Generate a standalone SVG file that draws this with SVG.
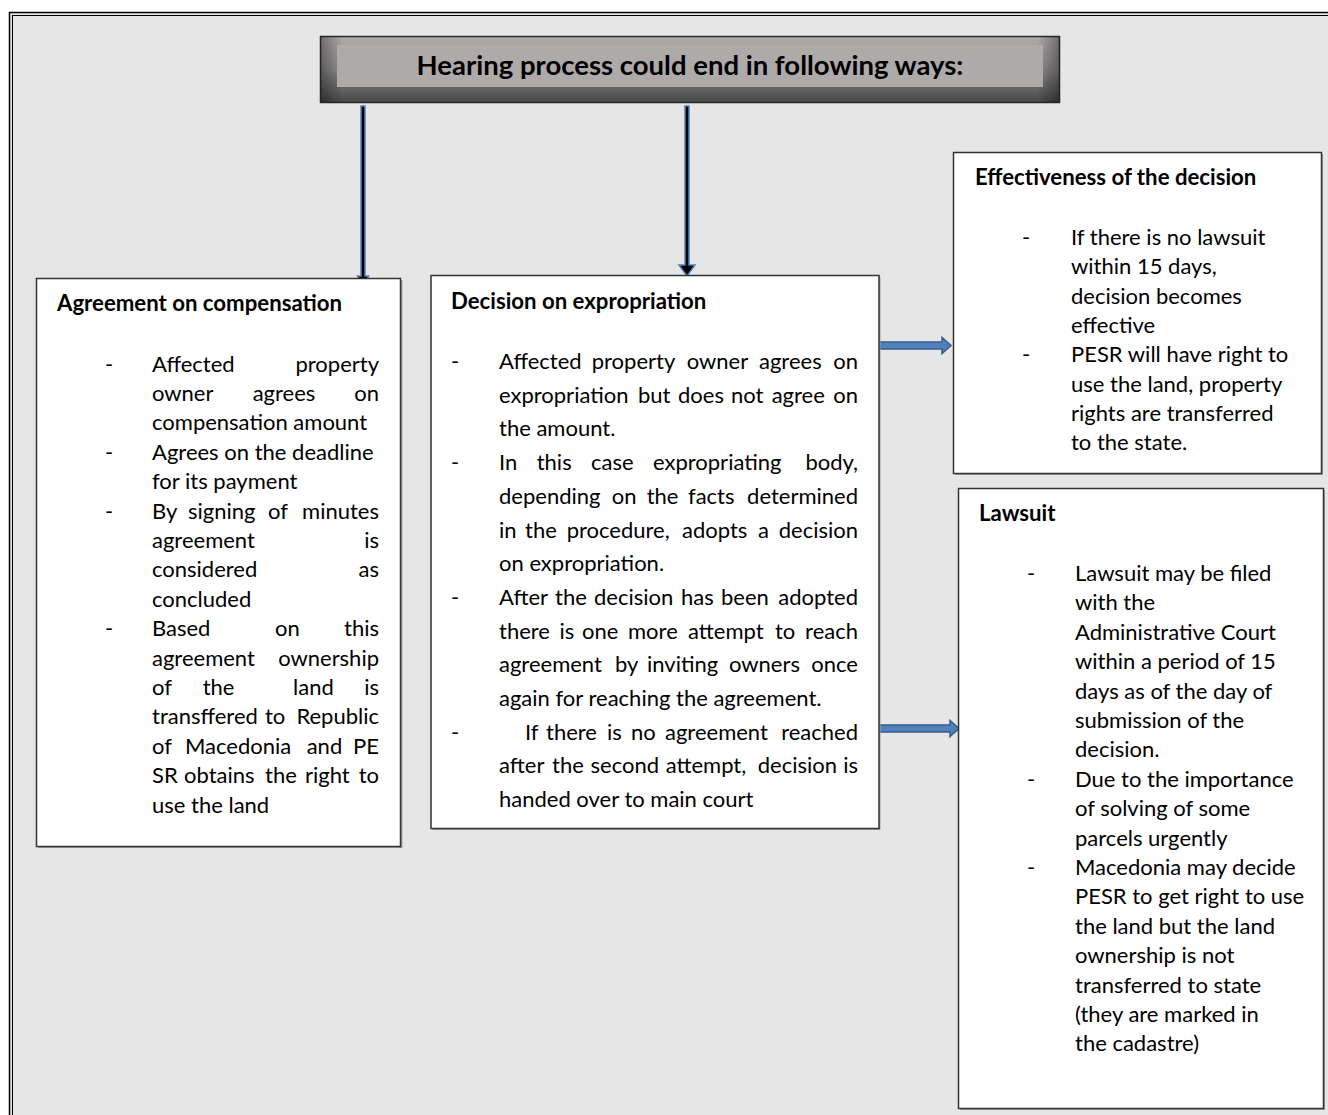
<svg xmlns="http://www.w3.org/2000/svg" width="1328" height="1115" viewBox="0 0 1328 1115">
<defs>
<linearGradient id="hdr" x1="0" y1="0" x2="0" y2="1">
<stop offset="0" stop-color="#aeabab"/>
<stop offset="0.5" stop-color="#8e8b8b"/>
<stop offset="1" stop-color="#474747"/>
</linearGradient>
<linearGradient id="hdrSide" x1="0" y1="0" x2="1" y2="0">
<stop offset="0" stop-color="#000" stop-opacity="0.35"/>
<stop offset="0.03" stop-color="#000" stop-opacity="0"/>
<stop offset="0.97" stop-color="#000" stop-opacity="0"/>
<stop offset="1" stop-color="#000" stop-opacity="0.35"/>
</linearGradient>
</defs>
<style>
.box{fill:#fff;stroke:#333;stroke-width:1.5}
.shadow{fill:#a0a0a0}
.t{font-family:Lato,"Liberation Sans",sans-serif;font-size:22px;fill:#000}
.b{font-family:Lato,"Liberation Sans",sans-serif;font-size:22.2px;font-weight:bold;fill:#000}
.h{font-family:Lato,"Liberation Sans",sans-serif;font-size:27.5px;font-weight:bold;fill:#000}
.e{text-anchor:end}
.va{fill:#000;stroke:#4f81bd;stroke-width:1.5}
.ha{fill:#4f81bd;stroke:#385d8a;stroke-width:1.5}
</style>
<rect x="0" y="0" width="1328" height="1115" fill="#fff"/>
<rect x="9.5" y="12.5" width="1340" height="1130" fill="#e6e6e6" stroke="#000" stroke-width="1.5"/>
<rect x="12.5" y="15.5" width="1340" height="1130" fill="none" stroke="#000" stroke-width="1"/>

<g id="header">
<rect x="320.5" y="36.5" width="739" height="66" fill="url(#hdr)" stroke="#2a2a2a" stroke-width="1.5"/>
<rect x="320.5" y="36.5" width="739" height="66" fill="url(#hdrSide)"/>
<rect x="337" y="45" width="706" height="42" fill="#aeaaaa"/>
<text class="h" x="690" y="75" text-anchor="middle">Hearing process could end in following ways:</text>
</g>

<g id="connectors">
<path class="va" d="M361,106 L365,106 L365,276 L368.5,276 L363,288 L357.5,276 L361,276 Z"/>
<path class="va" d="M685,106 L689,106 L689,265 L695,265 L687,276 L679,265 L685,265 Z"/>
<path class="ha" d="M878,342 L942,342 L942,337.5 L951,345.5 L942,353.5 L942,349 L878,349 Z"/>
<path class="ha" d="M878,725 L950,725 L950,720.5 L959,728.5 L950,736.5 L950,732 L878,732 Z"/>
</g>

<g id="agreement">
<rect class="shadow" x="38" y="280" width="364.5" height="568"/>
<rect class="box" x="36.5" y="278.5" width="364" height="568"/>
<text class="b" x="57" y="311">Agreement on compensation</text>
<text class="t" x="105" y="371.5">-</text>
<text class="t" x="105" y="459.7">-</text>
<text class="t" x="105" y="518.5">-</text>
<text class="t" x="105" y="636.1">-</text>
<text class="t" y="371.5"><tspan x="152">Affected</tspan><tspan class="e" x="379">property</tspan></text>
<text class="t" y="400.9"><tspan x="152">owner</tspan><tspan x="252.7">agrees</tspan><tspan class="e" x="379">on</tspan></text>
<text class="t" x="152" y="430.3">compensation amount</text>
<text class="t" x="152" y="459.7">Agrees on the deadline</text>
<text class="t" x="152" y="489.1">for its payment</text>
<text class="t" y="518.5"><tspan x="152">By</tspan><tspan x="188">signing</tspan><tspan x="268">of</tspan><tspan class="e" x="379">minutes</tspan></text>
<text class="t" y="547.9"><tspan x="152">agreement</tspan><tspan class="e" x="379">is</tspan></text>
<text class="t" y="577.3"><tspan x="152">considered</tspan><tspan class="e" x="379">as</tspan></text>
<text class="t" x="152" y="606.7">concluded</text>
<text class="t" y="636.1"><tspan x="152">Based</tspan><tspan x="275">on</tspan><tspan class="e" x="379">this</tspan></text>
<text class="t" y="665.5"><tspan x="152">agreement</tspan><tspan class="e" x="379">ownership</tspan></text>
<text class="t" y="694.9"><tspan x="152">of</tspan><tspan x="202.7">the</tspan><tspan x="293">land</tspan><tspan class="e" x="379">is</tspan></text>
<text class="t" y="724.3"><tspan x="152">transffered</tspan><tspan x="265">to</tspan><tspan class="e" x="379">Republic</tspan></text>
<text class="t" y="753.7"><tspan x="152">of</tspan><tspan x="185">Macedonia</tspan><tspan x="306.7">and</tspan><tspan class="e" x="379">PE</tspan></text>
<text class="t" y="783.1"><tspan x="152">SR</tspan><tspan x="184">obtains</tspan><tspan x="265">the</tspan><tspan x="305">right</tspan><tspan class="e" x="379">to</tspan></text>
<text class="t" x="152" y="812.5">use the land</text>
</g>

<g id="decision">
<rect class="shadow" x="432.5" y="277" width="448" height="553"/>
<rect class="box" x="431" y="275.5" width="448" height="553"/>
<text class="b" x="451" y="309">Decision on expropriation</text>
<text class="t" x="451" y="369">-</text>
<text class="t" x="451" y="470.1">-</text>
<text class="t" x="451" y="604.9">-</text>
<text class="t" x="451" y="739.7">-</text>
<text class="t" y="369"><tspan x="499">Affected</tspan><tspan x="591.7">property</tspan><tspan x="686.7">owner</tspan><tspan x="759">agrees</tspan><tspan class="e" x="858">on</tspan></text>
<text class="t" y="402.7"><tspan x="499">expropriation</tspan><tspan x="638">but</tspan><tspan x="678">does</tspan><tspan x="731">not</tspan><tspan x="771.7">agree</tspan><tspan class="e" x="858">on</tspan></text>
<text class="t" x="499" y="436.4">the amount.</text>
<text class="t" y="470.1"><tspan x="499">In</tspan><tspan x="536.7">this</tspan><tspan x="591">case</tspan><tspan x="653">expropriating</tspan><tspan class="e" x="858">body,</tspan></text>
<text class="t" y="503.8"><tspan x="499">depending</tspan><tspan x="611.7">on</tspan><tspan x="646.7">the</tspan><tspan x="688">facts</tspan><tspan class="e" x="858">determined</tspan></text>
<text class="t" y="537.5"><tspan x="499">in</tspan><tspan x="525">the</tspan><tspan x="566.7">procedure,</tspan><tspan x="682">adopts</tspan><tspan x="758">a</tspan><tspan class="e" x="858">decision</tspan></text>
<text class="t" x="499" y="571.2">on expropriation.</text>
<text class="t" y="604.9"><tspan x="499">After</tspan><tspan x="555">the</tspan><tspan x="594">decision</tspan><tspan x="681">has</tspan><tspan x="721">been</tspan><tspan class="e" x="858">adopted</tspan></text>
<text class="t" y="638.6"><tspan x="499">there</tspan><tspan x="559.5">is</tspan><tspan x="582">one</tspan><tspan x="628">more</tspan><tspan x="688">attempt</tspan><tspan x="775">to</tspan><tspan class="e" x="858">reach</tspan></text>
<text class="t" y="672.3"><tspan x="499">agreement</tspan><tspan x="615">by</tspan><tspan x="647">inviting</tspan><tspan x="729">owners</tspan><tspan class="e" x="858">once</tspan></text>
<text class="t" x="499" y="706">again for reaching the agreement.</text>
<text class="t" y="739.7"><tspan x="525">If</tspan><tspan x="546">there</tspan><tspan x="607">is</tspan><tspan x="631">no</tspan><tspan x="665">agreement</tspan><tspan class="e" x="858">reached</tspan></text>
<text class="t" y="773.4"><tspan x="499">after</tspan><tspan x="552">the</tspan><tspan x="590.5">second</tspan><tspan x="665.7">attempt,</tspan><tspan x="757.8">decision</tspan><tspan class="e" x="858">is</tspan></text>
<text class="t" x="499" y="807.1">handed over to main court</text>
</g>

<g id="effectiveness">
<rect class="shadow" x="955" y="154" width="368" height="321"/>
<rect class="box" x="953.5" y="152.5" width="368" height="321"/>
<text class="b" x="975" y="185">Effectiveness of the decision</text>
<text class="t" x="1022" y="245">-</text>
<text class="t" x="1022" y="362.2">-</text>
<text class="t" x="1071" y="245">If there is no lawsuit</text>
<text class="t" x="1071" y="274.3">within 15 days,</text>
<text class="t" x="1071" y="303.6">decision becomes</text>
<text class="t" x="1071" y="332.9">effective</text>
<text class="t" x="1071" y="362.2">PESR will have right to</text>
<text class="t" x="1071" y="391.5">use the land, property</text>
<text class="t" x="1071" y="420.8">rights are transferred</text>
<text class="t" x="1071" y="450.1">to the state.</text>
</g>

<g id="lawsuit">
<rect class="shadow" x="960" y="490" width="365" height="620"/>
<rect class="box" x="958.5" y="488.5" width="365" height="620"/>
<text class="b" x="979" y="521">Lawsuit</text>
<text class="t" x="1027" y="581">-</text>
<text class="t" x="1027" y="786.8">-</text>
<text class="t" x="1027" y="875">-</text>
<text class="t" x="1075" y="581">Lawsuit may be filed</text>
<text class="t" x="1075" y="610.4">with the</text>
<text class="t" x="1075" y="639.8">Administrative Court</text>
<text class="t" x="1075" y="669.2">within a period of 15</text>
<text class="t" x="1075" y="698.6">days as of the day of</text>
<text class="t" x="1075" y="728">submission of the</text>
<text class="t" x="1075" y="757.4">decision.</text>
<text class="t" x="1075" y="786.8">Due to the importance</text>
<text class="t" x="1075" y="816.2">of solving of some</text>
<text class="t" x="1075" y="845.6">parcels urgently</text>
<text class="t" x="1075" y="875">Macedonia may decide</text>
<text class="t" x="1075" y="904.4">PESR to get right to use</text>
<text class="t" x="1075" y="933.8">the land but the land</text>
<text class="t" x="1075" y="963.2">ownership is not</text>
<text class="t" x="1075" y="992.6">transferred to state</text>
<text class="t" x="1075" y="1022">(they are marked in</text>
<text class="t" x="1075" y="1051.4">the cadastre)</text>
</g>
</svg>
